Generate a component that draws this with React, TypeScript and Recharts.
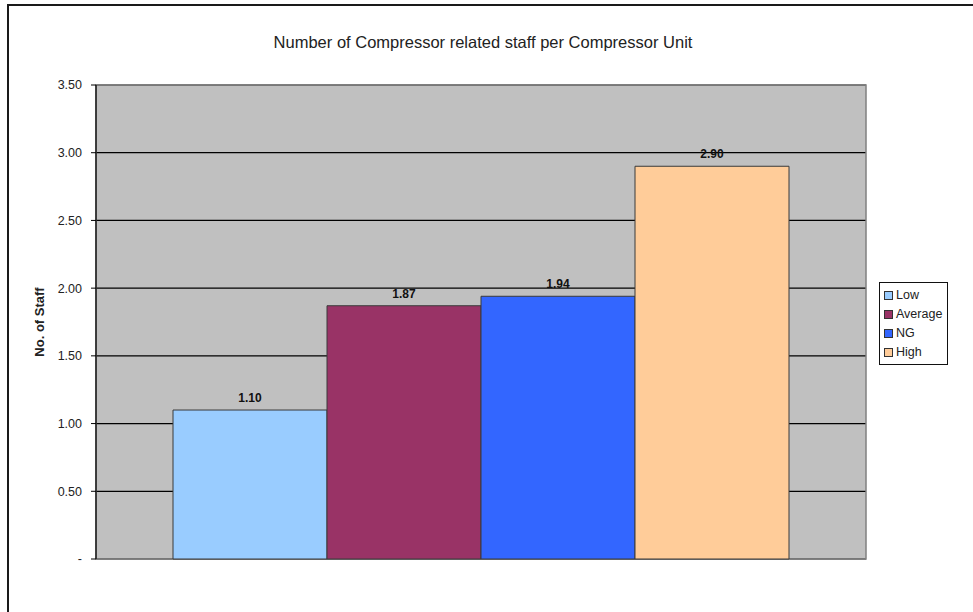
import { BarChart, Bar, XAxis, YAxis, CartesianGrid, Legend, LabelList, ReferenceArea } from 'recharts'

const seriesNames = ['Low', 'Average', 'NG', 'High']
const seriesValues = [1.1, 1.87, 1.94, 2.9]
const yTicks = [0, 0.5, 1, 1.5, 2, 2.5, 3, 3.5]

const seriesColors = ['#99ccff', '#993366', '#3366ff', '#ffcc99']

// one category, one bar per series
const row: Record<string, string | number> = { name: 'Compressor' }
seriesNames.forEach((n, i) => {
  row[n] = seriesValues[i]
})
const data = [row]

const fmtTick = (v: number) => (v === 0 ? '-' : v.toFixed(2))

const StaffLabel = (props: any) => {
  const vb = props.viewBox || { x: 20, y: 85, width: 76, height: 474 }
  const cx = vb.x + 19
  const cy = vb.y + vb.height / 2
  return (
    <text
      x={cx}
      y={cy}
      transform={`rotate(-90, ${cx}, ${cy})`}
      textAnchor="middle"
      dominantBaseline="central"
      fontSize={13}
      fontWeight="bold"
      fill="#222"
    >
      No. of Staff
    </text>
  )
}

const LegendBox = (props: any) => {
  // keep series order instead of alphabetical
  const items = [...(props.payload || [])].sort(
    (a: any, b: any) => seriesNames.indexOf(a.value) - seriesNames.indexOf(b.value)
  )
  return (
    <div
      style={{
        border: '1px solid #111',
        background: '#fff',
        padding: '3px 4px 2px 4px',
        fontSize: 12.5,
        color: '#222',
        lineHeight: '19px',
      }}
    >
      {items.map((it: any) => (
        <div key={it.value} style={{ display: 'flex', alignItems: 'center', height: 19 }}>
          <span
            style={{
              display: 'inline-block',
              width: 7,
              height: 7,
              background: it.color,
              border: '1px solid #333',
              marginRight: 3,
            }}
          />
          {it.value}
        </div>
      ))}
    </div>
  )
}

export default function App() {
  return (
    <div
      style={{
        position: 'absolute',
        left: 0,
        top: 0,
        width: 973,
        height: 612,
        overflow: 'hidden',
        background: '#fff',
        fontFamily: 'Arial, "Liberation Sans", sans-serif',
      }}
    >
      <div
        style={{
          position: 'absolute',
          left: 7,
          top: 4,
          width: 1000,
          height: 700,
          borderLeft: '2px solid #1a1a1a',
          borderTop: '2px solid #1a1a1a',
        }}
      />
      <div
        style={{
          position: 'absolute',
          left: 0,
          top: 33,
          width: 966,
          textAlign: 'center',
          fontSize: 16.5,
          color: '#222',
        }}
      >
        Number of Compressor related staff per Compressor Unit
      </div>
      <div style={{ position: 'absolute', left: 0, top: 0 }}>
        <BarChart
          width={973}
          height={612}
          data={data}
          margin={{ top: 85, right: 107, bottom: 53, left: 20 }}
          barCategoryGap="10%"
          barGap={0}
        >
          <CartesianGrid vertical={false} stroke="#000" strokeWidth={1.2} fill="#c0c0c0" />
          <ReferenceArea y1={0} y2={3.5} fill="none" stroke="#808080" strokeWidth={1.5} />
          <XAxis dataKey="name" hide />
          <YAxis
            width={76}
            domain={[0, 3.5]}
            ticks={yTicks}
            tickFormatter={fmtTick}
            interval={0}
            axisLine={{ stroke: '#000', strokeWidth: 1.2 }}
            tickLine={{ stroke: '#000' }}
            tickSize={5}
            tickMargin={9}
            tick={{ fontSize: 12.5, fill: '#222' }}
            label={{ value: 'No. of Staff', content: StaffLabel }}
          />
          <Legend
            layout="horizontal"
            verticalAlign="middle"
            align="center"
            content={LegendBox}
            wrapperStyle={{ position: 'absolute', left: 879, top: 282, width: 69 }}
          />
          {seriesNames.map((n, i) => (
            <Bar key={n} dataKey={n} fill={seriesColors[i]} stroke="#3a3a3a" strokeWidth={1} isAnimationActive={false}>
              <LabelList
                dataKey={n}
                position="top"
                offset={8}
                formatter={(v: any) => Number(v).toFixed(2)}
                style={{ fontSize: 12, fontWeight: 'bold', fill: '#111' }}
              />
            </Bar>
          ))}
        </BarChart>
      </div>
    </div>
  )
}
